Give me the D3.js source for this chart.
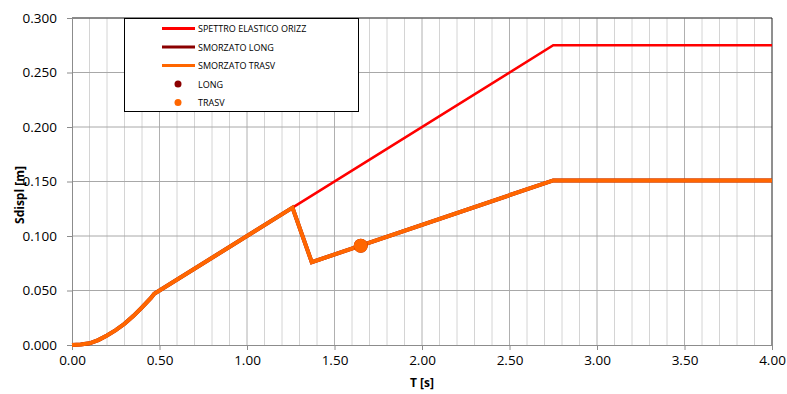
<!DOCTYPE html>
<html>
<head>
<meta charset="utf-8">
<script src="https://cdn.jsdelivr.net/npm/d3@7"></script>
<style>
  body { margin: 0; background: #fff; }
  text { font-family: "Open Sans", "Liberation Sans", sans-serif; }
</style>
</head>
<body>
<div id="chart"></div>
<script>
// periods and displacement values
var elasticT  = [0, 0.05, 0.10, 0.15, 0.20, 0.25, 0.30, 0.35, 0.40, 0.45, 0.47, 1.26, 2.75, 4.00];
var elasticSd = [0, 0.0004, 0.0016, 0.0045, 0.0088, 0.0136, 0.0195, 0.0265, 0.0345, 0.0430, 0.047, 0.126, 0.275, 0.275];

var dampedT  = [0, 0.05, 0.10, 0.15, 0.20, 0.25, 0.30, 0.35, 0.40, 0.45, 0.47, 1.26, 1.37, 2.75, 4.00];
var dampedSd = [0, 0.0004, 0.0016, 0.0045, 0.0088, 0.0136, 0.0195, 0.0265, 0.0345, 0.0430, 0.047, 0.126, 0.076, 0.151, 0.151];

var pointT = [1.65];
var pointSd = [0.091];

var xTicks = [0, 0.5, 1, 1.5, 2, 2.5, 3, 3.5, 4];
var yTicks = [0, 0.05, 0.10, 0.15, 0.20, 0.25, 0.30];

var legendNames = ["SPETTRO ELASTICO ORIZZ", "SMORZATO LONG", "SMORZATO TRASV", "LONG", "TRASV"];

var W = 787, H = 394;
var margin = {top: 18, right: 15, bottom: 49, left: 72};

var svg = d3.select("#chart").append("svg")
    .attr("width", W)
    .attr("height", H);

var x = d3.scaleLinear().domain([0, 4]).range([margin.left, W - margin.right]);
var y = d3.scaleLinear().domain([0, 0.3]).range([H - margin.bottom, margin.top]);

// minor vertical grid every 0.1
var minor = d3.range(1, 40).map(function(i){ return i / 10; }).filter(function(v){ return Math.abs(v*2 - Math.round(v*2)) > 1e-6; });
svg.selectAll(".vminor")
  .data(minor)
  .enter()
  .append("line")
    .attr("x1", function(d){ return x(d); })
    .attr("x2", function(d){ return x(d); })
    .attr("y1", y(0))
    .attr("y2", y(0.3))
    .style("stroke", "#d4d4d4")
    .style("stroke-width", 1);

svg.selectAll(".vmajor")
  .data(xTicks.slice(1, -1))
  .enter()
  .append("line")
    .attr("x1", function(d){ return x(d); })
    .attr("x2", function(d){ return x(d); })
    .attr("y1", y(0))
    .attr("y2", y(0.3))
    .style("stroke", "#b0b0b0")
    .style("stroke-width", 1);

svg.selectAll(".hgrid")
  .data(yTicks.slice(1))
  .enter()
  .append("line")
    .attr("x1", x(0))
    .attr("x2", x(4))
    .attr("y1", function(d){ return y(d); })
    .attr("y2", function(d){ return y(d); })
    .style("stroke", "#a8a8a8")
    .style("stroke-width", 1);

// top / right border
svg.append("line")
  .attr("x1", x(0)).attr("x2", x(4)).attr("y1", y(0.3)).attr("y2", y(0.3))
  .style("stroke", "#404040");
svg.append("line")
  .attr("x1", x(4)).attr("x2", x(4)).attr("y1", y(0.3)).attr("y2", y(0))
  .style("stroke", "#202020");

// axes
var xAxis = d3.axisBottom(x).tickValues(xTicks).tickFormat(d3.format(".2f")).tickSize(5).tickPadding(5);
var yAxis = d3.axisLeft(y).tickValues(yTicks).tickFormat(d3.format(".3f")).tickSize(5).tickPadding(10);

var gx = svg.append("g").attr("transform", "translate(0," + y(0) + ")").call(xAxis);
var gy = svg.append("g").attr("transform", "translate(" + x(0) + ",0)").call(yAxis);
[gx, gy].forEach(function(g){
  g.attr("font-family", null).attr("font-size", null);
  g.selectAll("path, line").style("stroke", "#8c8c8c");
  g.selectAll("text").style("font-size", "13.5px").style("fill", "#000");
});

// axis titles
svg.append("text")
  .attr("x", x(2))
  .attr("y", 387)
  .attr("text-anchor", "middle")
  .style("font-weight", "bold")
  .style("font-size", "12px")
  .text("T [s]");

svg.append("text")
  .attr("transform", "translate(24,195) rotate(-90)")
  .attr("text-anchor", "middle")
  .style("font-weight", "bold")
  .style("font-size", "12px")
  .text("Sdispl [m]");

var line = d3.line()
  .x(function(d){ return x(d[0]); })
  .y(function(d){ return y(d[1]); });

var elastic = elasticT.map(function(t, i){ return [t, elasticSd[i]]; });
var damped = dampedT.map(function(t, i){ return [t, dampedSd[i]]; });

svg.append("path")
  .datum(elastic)
  .attr("d", line)
  .style("fill", "none")
  .style("stroke", "#ff0000")
  .style("stroke-width", 2.5);

svg.append("path")
  .datum(damped)
  .attr("d", line)
  .style("fill", "none")
  .style("stroke", "#8b0000")
  .style("stroke-width", 4);

svg.append("path")
  .datum(damped)
  .attr("d", line)
  .style("fill", "none")
  .style("stroke", "#ff6600")
  .style("stroke-width", 4)
  .style("stroke-linejoin", "miter");

svg.selectAll(".ptLong")
  .data(pointT)
  .enter()
  .append("circle")
    .attr("cx", function(d){ return x(d); })
    .attr("cy", function(d, i){ return y(pointSd[i]); })
    .attr("r", 7)
    .style("fill", "#8b0000");

svg.selectAll(".ptTrasv")
  .data(pointT)
  .enter()
  .append("circle")
    .attr("cx", function(d){ return x(d); })
    .attr("cy", function(d, i){ return y(pointSd[i]); })
    .attr("r", 7)
    .style("fill", "#ff6600");

// legend
var legend = svg.append("g");
legend.append("rect")
  .attr("x", 124.5).attr("y", 18.5)
  .attr("width", 234).attr("height", 93)
  .style("fill", "#fff")
  .style("stroke", "#000")
  .style("stroke-width", 1);

var legColors = ["#ff0000", "#8b0000", "#ff6600", "#8b0000", "#ff6600"];
legend.selectAll(".legItem")
  .data(legendNames)
  .enter()
  .append("g")
    .attr("transform", function(d, i){ return "translate(0," + (28.5 + i * 18.5) + ")"; })
    .each(function(d, i){
      var g = d3.select(this);
      if (i < 3) {
        g.append("line")
          .attr("x1", 162).attr("x2", 195).attr("y1", 0).attr("y2", 0)
          .style("stroke", legColors[i])
          .style("stroke-width", 3);
      } else {
        g.append("circle")
          .attr("cx", 178).attr("cy", 0).attr("r", 3.5)
          .style("fill", legColors[i]);
      }
      g.append("text")
        .attr("x", 198)
        .attr("y", 3.5)
        .style("font-size", "9px")
        .text(d);
    });
</script>
</body>
</html>
